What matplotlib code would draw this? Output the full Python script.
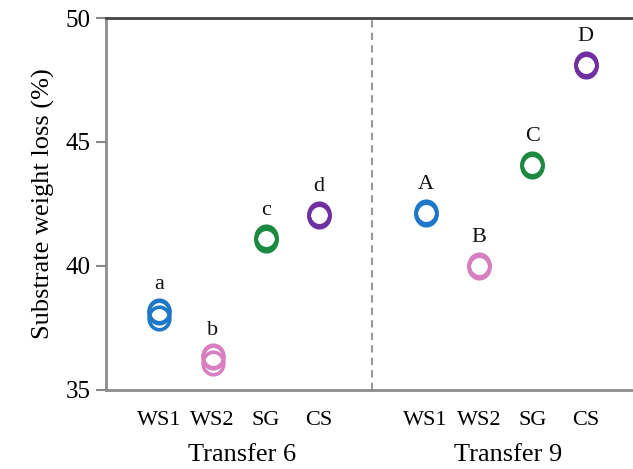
import numpy as np
import matplotlib
matplotlib.use("Agg")
import matplotlib.pyplot as plt
from matplotlib.path import Path

plt.rcParams['font.family'] = ['Liberation Serif', 'DejaVu Serif']

# ---- data ----
categories = ["WS1", "WS2", "SG", "CS"]
groups = ["Transfer 6", "Transfer 9"]
t6_ws1 = [38.20, 38.16, 37.90]
t6_ws2 = [36.38, 36.34, 36.08]
t6_sg = [41.16, 41.10, 41.04]
t6_cs = [42.10, 42.06, 42.02]
t9_ws1 = [42.18, 42.14, 42.10]
t9_ws2 = [40.02, 39.98, 39.95]
t9_sg = [44.10, 44.06, 44.03]
t9_cs = [48.15, 48.10, 48.06]
t6_letters = ["a", "b", "c", "d"]
t9_letters = ["A", "B", "C", "D"]
colors = ["#1f77c8", "#d77fc0", "#1b8a40", "#7030a0"]
yticks = [35, 40, 45, 50]

t6 = [t6_ws1, t6_ws2, t6_sg, t6_cs]
t9 = [t9_ws1, t9_ws2, t9_sg, t9_cs]

fig = plt.figure(figsize=(6.33, 4.69), dpi=100)
ax = fig.add_axes([0.1675, 0.1685, 0.8325, 0.7931])

th = np.linspace(0, 2 * np.pi, 120)
ell = Path(np.column_stack([0.92 * np.cos(th), np.sin(th)]), closed=True)

pos6 = [1, 2, 3, 4]
pos9 = [6, 7, 8, 9]
for posl, data, letters in [(pos6, t6, t6_letters), (pos9, t9, t9_letters)]:
    for p, vals, lab, c in zip(posl, data, letters, colors):
        ax.plot([p] * len(vals), vals, linestyle="none", marker=ell,
                markersize=16.2, markerfacecolor="none", markeredgecolor=c,
                markeredgewidth=2.6)
        ax.text(p, np.mean(vals) + 1.15, lab, ha="center", va="center",
                fontsize=16, color="#111111")

ax.axvline(5, color="#999999", linestyle=(0, (3.5, 2.5)), linewidth=1.5)

ax.set_xlim(0, 9.89)
ax.set_ylim(35, 50)
ax.set_yticks(yticks)
ax.set_yticklabels([str(v) for v in yticks], fontsize=18)
ax.set_xticks(pos6 + pos9)
ax.set_xticklabels(categories + categories, fontsize=16)
ax.tick_params(axis="x", length=0, pad=15)
ax.tick_params(axis="y", length=7, width=1.5, color="#888888", pad=4)

ax.spines["right"].set_visible(False)
ax.spines["left"].set_color("#8c8c8c")
ax.spines["left"].set_linewidth(2)
ax.spines["bottom"].set_color("#8c8c8c")
ax.spines["bottom"].set_linewidth(2)
ax.spines["top"].set_color("#444444")
ax.spines["top"].set_linewidth(2)

ax.set_ylabel("Substrate weight loss (%)", fontsize=19, labelpad=8)

for xg, g in zip([2.55, 7.55], groups):
    ax.text(xg, -0.175, g, transform=ax.get_xaxis_transform(), ha="center",
            va="center", fontsize=19)

fig.savefig("out.png", dpi=100)
